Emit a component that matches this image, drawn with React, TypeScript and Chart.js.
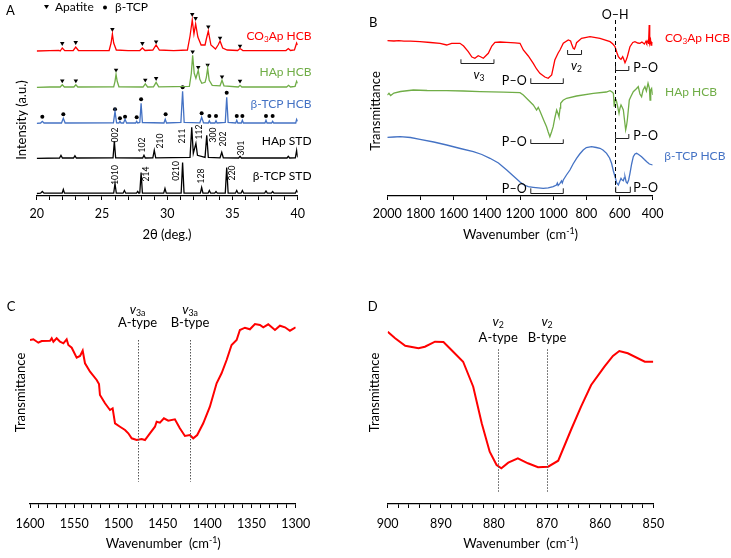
import React, { useEffect, useRef } from 'react';
import { Chart, registerables } from 'chart.js';
Chart.register(...registerables);

const FONT = 'Lato, "Open Sans", sans-serif';
const RED = '#ff0000';
const GREEN = '#70ad47';
const BLUE = '#4472c4';
const BLACK = '#000000';

type Pt = [number, number];

// ---------------- Panel A: XRD ----------------
const xrdTickLabels = [20, 25, 30, 35, 40];
const xrdNames = ['CO_{3}Ap HCB', 'HAp HCB', 'β-TCP HCB', 'HAp STD', 'β-TCP STD'];
const xrdOffsets = [145, 108.7, 72.7, 37.7, 2.5];

const co3apHcbXrd: Pt[] = [[20,0],[21,0.4],[21.7,0.5],[21.8,0],[21.96,3],[22.15,0.3],[22.8,0.5],[22.99,4],[23.2,0.5],[24.5,0.3],[25.55,0.5],[25.7,8],[25.8,17],[25.9,8],[26.1,1],[27,0.4],[27.9,0.5],[28.1,3],[28.3,0.5],[28.9,1],[29.15,6],[29.4,1],[30.5,0.4],[31.55,1],[31.75,15],[31.92,31],[32.05,17],[32.18,27],[32.35,14],[32.6,6],[32.9,6],[33.0,12],[33.15,20],[33.35,6],[33.7,2],[33.9,6],[34.05,10],[34.25,3],[34.6,1],[35.4,0.5],[35.58,2.5],[35.8,0.5],[37,0.4],[39.1,0.5],[39.28,2.5],[39.45,0.5],[39.75,1],[39.92,8],[40,6]];
const hapHcbXrd: Pt[] = [[20,0],[21,0.3],[21.8,0.3],[21.96,2.5],[22.12,0.3],[22.85,0.3],[23.0,2.5],[23.15,0.3],[25.9,0.5],[26.0,6],[26.08,13],[26.17,6],[26.3,0.5],[28.15,0.3],[28.32,3.5],[28.5,0.3],[28.95,0.5],[29.15,5],[29.35,0.5],[31.7,1],[31.85,14],[31.95,32],[32.07,14],[32.2,9],[32.38,17],[32.5,8],[32.65,4],[32.9,5],[33.0,10],[33.1,19],[33.22,7],[33.45,2],[34.05,1.5],[34.2,7],[34.35,1.5],[35.45,0.3],[35.58,2],[35.72,0.3],[39.15,0.3],[39.3,2],[39.45,0.3],[39.8,1],[39.92,6],[40,4]];
const tcpHcbXrd: Pt[] = [[20,0],[20.3,0.3],[20.43,2],[20.56,0.3],[21.9,0.3],[22.04,5],[22.18,0.3],[25.88,0.5],[26.0,12],[26.12,0.5],[26.3,0.3],[26.38,2],[26.46,0.3],[26.65,0.3],[26.77,4],[26.89,0.3],[27.58,0.3],[27.66,2],[27.74,0.3],[27.9,0.8],[28.0,20],[28.1,0.8],[29.75,0.3],[29.85,4],[29.95,0.3],[31.05,1],[31.18,32],[31.3,1],[32.5,0.5],[32.64,6],[32.78,0.5],[33.15,0.3],[33.23,2.5],[33.31,0.3],[33.66,0.3],[33.74,2.5],[33.82,0.3],[34.45,1],[34.56,26],[34.67,1],[35.25,0.3],[35.33,3],[35.41,0.3],[35.68,0.3],[35.76,3],[35.84,0.3],[37.49,0.3],[37.57,3],[37.65,0.3],[38.0,0.3],[38.08,2],[38.16,0.3],[39.85,0.3],[39.92,4],[40,2]];
const hapStdXrd: Pt[] = [[20,0],[21.75,0.3],[21.86,3],[21.97,0.3],[22.82,0.3],[22.93,2.5],[23.04,0.3],[25.85,0.5],[25.95,17],[26.05,0.5],[28.12,0.3],[28.22,3],[28.32,0.3],[28.9,0.5],[29.01,8],[29.12,0.5],[31.75,1],[31.88,31],[32.0,5],[32.2,15],[32.32,3],[32.9,1],[33.03,23],[33.15,1],[34.05,0.5],[34.18,6],[34.3,0.5],[35.48,0.3],[35.58,2],[35.68,0.3],[39.18,0.3],[39.28,2],[39.38,0.3],[39.82,0.5],[39.92,8],[40,1]];
const tcpStdXrd: Pt[] = [[20,0],[20.3,0.3],[20.43,2],[20.56,0.3],[21.95,0.3],[22.04,4],[22.13,0.3],[25.9,0.5],[26.0,10],[26.1,0.5],[26.62,0.3],[26.72,3],[26.82,0.3],[27.65,0.3],[27.74,2],[27.83,0.3],[27.9,0.5],[28.0,21],[28.1,0.5],[29.73,0.3],[29.83,5],[29.93,0.3],[31.07,0.5],[31.18,31],[31.29,0.5],[32.54,0.3],[32.64,6],[32.74,0.3],[33.13,0.3],[33.23,3],[33.33,0.3],[33.64,0.3],[33.74,2],[33.84,0.3],[34.45,0.5],[34.56,26],[34.67,0.5],[35.23,0.3],[35.33,3],[35.43,0.3],[35.66,0.3],[35.76,3],[35.86,0.3],[37.47,0.3],[37.57,2.5],[37.67,0.3],[37.98,0.3],[38.08,2],[38.18,0.3],[39.82,0.3],[39.92,3],[40,1]];

const apatiteMarks: Pt[] = [[21.96,152.7],[22.99,153.7],[25.8,166.7],[28.1,152.7],[29.15,154.3],[31.92,181.7],[32.18,177.7],[33.15,169.3],[34.05,158],[35.58,150],
  [21.96,115.3],[23.0,115.3],[26.08,126],[28.32,116],[29.15,117.7],[31.95,144.3],[32.38,128.7],[33.1,131],[34.2,119.3],[35.58,115]];
const tcpMarks: Pt[] = [[20.43,79.3],[22.04,81.7],[26.0,86.7],[26.38,77.7],[26.77,79.3],[27.66,78.7],[28.0,96.7],[29.88,81.7],[31.18,108.7],[32.64,82.7],[33.23,80],[33.74,80],[34.56,103.3],[35.33,80],[35.76,80],[37.57,80],[38.08,80]];

const hklLabels: [string, number, number][] = [['002',26.0,61],['102',28.09,51],['210',29.45,55],['211',31.17,60],['112',32.46,64],['300',33.53,61],['202',34.3,57],['301',35.66,48],
  ['1010',26.0,21],['214',28.43,22],['0210',30.73,25],['128',32.63,20],['220',35.0,23]];
const xrdNamePos: Pt[] = [[41.06,160.3],[41.06,124.3],[41.06,91.7],[41.06,55.3],[41.06,20.3]];

// ---------------- Panel B: FTIR ----------------
const ftirTickLabels = [2000, 1800, 1600, 1400, 1200, 1000, 800, 600, 400];
const ftirNames = ['CO_{3}Ap HCB', 'HAp HCB', 'β-TCP HCB'];
const co3apFtir: Pt[] = [[2000,155.3],[1960,155],[1930,155.4],[1900,154.8],[1860,154.9],[1803,154.3],[1740,153.5],[1682,152.7],[1642,151],[1612,152.7],[1562,152.7],[1540,150],[1512,144.3],[1490,139],[1472,137.7],[1452,140.3],[1435,139],[1421,137.7],[1391,142.7],[1370,150],[1351,153.7],[1320,154],[1280,153.7],[1230,153.2],[1200,152.7],[1180,146],[1150,140],[1120,132.7],[1100,127],[1080,122.7],[1050,119],[1030,117.7],[1009,121],[990,136],[970,143],[959,146],[939,152.7],[909,156],[895,155],[889,152],[879,147.7],[872,147],[865,150],[859,153.3],[829,157.7],[778,159.3],[718,157.7],[657,154.3],[640,152],[627,149.3],[615,143],[607,139.3],[598,137.5],[591,136.7],[581,139.3],[575,137],[567,133.3],[560,136],[553,139.3],[537,149.3],[520,153.5],[507,154.3],[490,153],[477,152.7],[465,154],[450,152],[440,155],[436,153],[428,155.5],[425,152],[421,171],[418,153],[413,156],[410,151],[405,153.5],[400,152.7]];
const hapFtir: Pt[] = [[2000,101],[1990,102.7],[1980,100.5],[1960,103],[1920,104.5],[1843,106],[1760,105.5],[1642,105.3],[1540,105],[1441,104.3],[1300,103.8],[1200,103.3],[1180,101],[1150,96],[1120,91],[1100,86],[1090,88.7],[1080,85],[1070,81],[1055,75],[1040,69.3],[1030,64],[1020,59.3],[1010,64],[1000,69.3],[990,78],[979,86],[970,82],[965,79.3],[958,88],[955,92.7],[940,95.7],[919,97.7],[859,100],[758,102.7],[680,104],[657,105.3],[645,104],[637,102.7],[632,89.3],[627,96],[620,96],[612,90],[603,82.7],[597,88],[591,91],[584,88.7],[577,86],[570,76],[563,66],[558,70],[553,76],[547,86],[541,96],[530,100],[517,104.3],[500,107],[487,109.3],[477,102],[467,99.3],[458,106],[447,109.3],[438,105],[428,112.7],[420,108],[416,96],[412,106],[406,107.7],[400,101]];
const tcpFtir: Pt[] = [[2000,58.7],[1960,59],[1923,59.3],[1860,58.5],[1803,56.7],[1720,54],[1642,51],[1560,47.5],[1481,44.3],[1430,41.5],[1381,37.7],[1330,33],[1280,26],[1240,20],[1200,14],[1175,11],[1150,9.3],[1120,8.7],[1090,8.2],[1060,7.7],[1030,8.2],[1000,9.3],[980,11],[975,13],[970,10.5],[959,12.7],[950,15],[945,13],[939,16],[920,21],[899,26],[880,32],[859,37.7],[840,42],[819,46],[800,48.5],[769,49.3],[740,48.5],[718,47.7],[700,46],[678,42.7],[660,38],[648,32.7],[637,25],[627,19.3],[617,13],[607,11],[600,14],[591,17.7],[584,16],[577,15.3],[572,18],[567,19.3],[560,14],[553,12.7],[545,16],[537,22.7],[527,32],[517,39.3],[507,42],[497,42.7],[485,41.5],[467,39.3],[450,36.5],[436,34.3],[420,32],[410,31.5],[400,31]];
const ftirNamePos: Pt[] = [[326,157.7],[326,104.3],[330,40.3]];
const ftirBrackets: [number, number, number, number][] = [[1556,1357,132.7,136.7],[1135,939,113.3,117.7],[913,829,141.7,146],[624,544,126,130],[1135,939,52.7,56.7],[624,544,58.3,62],[1135,939,3.3,7.7],[623,535,4.3,9.3]];
const ftirBandLabels: [string, number, number, CanvasTextAlign][] = [['*v*_{3}',1448,121,'center'],['P–O',1160,115,'right'],['*v*_{2}',859,130,'center'],['P–O',518,128.3,'left'],['P–O',1160,54.3,'right'],['P–O',518,60.5,'left'],['P–O',1160,7.5,'right'],['P–O',518,7.7,'left'],['O–H',627,181,'center']];
const ohLine = { w: 627, from: 0, to: 176 };

// ---------------- Panel C: v3 region ----------------
const v3TickLabels = [1600, 1550, 1500, 1450, 1400, 1350, 1300];
const v3Spectrum: Pt[] = [[1600,164],[1596.2,164.7],[1590.6,161.3],[1586.8,163],[1577.4,163.3],[1575.5,165.7],[1573.6,162.3],[1569.9,165.7],[1566.1,162.3],[1562.3,160.7],[1558.6,164.7],[1556.7,159],[1552.9,156.3],[1547.3,146.3],[1543.5,148],[1540.5,153.3],[1537.9,140.7],[1532.2,132.3],[1524.7,124],[1522.1,120],[1521,109],[1515.3,100.7],[1509.7,94],[1506.7,95.7],[1504,80.7],[1498.4,77.3],[1492.7,74],[1489,70.7],[1485.2,65.7],[1479.6,64],[1473.9,65],[1470.2,64],[1464.6,70.7],[1458.9,77.3],[1457,82.3],[1453.3,81.3],[1448.8,85.7],[1443.9,83.3],[1436.4,84.7],[1430.8,75.7],[1425.1,68],[1419.5,69],[1415.7,65.7],[1411.2,69],[1404.4,80.7],[1396.9,97.3],[1389.3,120.7],[1383.7,130.7],[1378,144],[1372.4,159],[1366.7,164],[1363,174],[1357.3,176.3],[1351.7,174.7],[1346,180],[1340.4,179],[1336.6,176.7],[1331,179.7],[1323.4,174],[1317.8,178.3],[1312.1,176.7],[1306.5,173.3],[1300,176.7]];
const v3Lines = [1478.6, 1419.3];
const v3LineSpan = { from: 22.3, to: 164 };
const v3Labels: [string, string][] = [['*v*_{3a}', 'A-type'], ['*v*_{3a}', 'B-type']];

// ---------------- Panel D: v2 region ----------------
const v2TickLabels = [900, 890, 880, 870, 860, 850];
const v2Spectrum: Pt[] = [[900,172.3],[898.6,165.7],[896.7,158.3],[894.2,155.7],[893,157.3],[891.1,162.3],[889.5,162],[888,154],[885.8,142.3],[883.9,117.3],[882.3,80.7],[880.8,52.3],[879.5,39],[878.6,35.7],[877.3,41.3],[875.5,45.7],[873.6,40.7],[871.7,36.7],[869.8,37.3],[867.9,43.3],[865.5,74],[863.6,97.3],[861.7,119],[859.2,137.3],[857.6,148],[856.4,153],[854.8,150.7],[851.6,142.3],[850,142.3]];
const v2Lines = [879.2, 870];
const v2LineSpan = { from: 12.3, to: 154.7 };
const v2Labels: [string, string][] = [['*v*_{2}', 'A-type'], ['*v*_{2}', 'B-type']];

// ---------------- helpers ----------------
type Seg = { t: string; kind: 'n' | 'sub' | 'sup'; it: boolean };
function parseRich(s: string): Seg[] {
  const segs: Seg[] = [];
  let i = 0, it = false, buf = '';
  const push = (t: string, kind: Seg['kind']) => { if (t) segs.push({ t, kind, it }); };
  while (i < s.length) {
    const c = s[i];
    if ((c === '_' || c === '^') && s[i + 1] === '{') {
      push(buf, 'n'); buf = '';
      const j = s.indexOf('}', i);
      push(s.slice(i + 2, j), c === '_' ? 'sub' : 'sup');
      i = j + 1; continue;
    }
    if (c === '*') { push(buf, 'n'); buf = ''; it = !it; i++; continue; }
    buf += c; i++;
  }
  push(buf, 'n');
  return segs;
}
function rich(ctx: CanvasRenderingContext2D, s: string, x: number, y: number, size: number, color: string, align: CanvasTextAlign = 'left', rotate = false) {
  const segs = parseRich(s);
  const fontOf = (g: Seg) => `${g.it ? 'italic ' : ''}${g.kind === 'n' ? size : size * 0.68}px ${FONT}`;
  let total = 0;
  for (const g of segs) { ctx.font = fontOf(g); total += ctx.measureText(g.t).width; }
  ctx.save();
  ctx.translate(x, y);
  if (rotate) ctx.rotate(-Math.PI / 2);
  let cx = align === 'center' ? -total / 2 : align === 'right' ? -total : 0;
  ctx.fillStyle = color;
  ctx.textAlign = 'left';
  ctx.textBaseline = 'middle';
  for (const g of segs) {
    ctx.font = fontOf(g);
    const dy = g.kind === 'sub' ? size * 0.28 : g.kind === 'sup' ? -size * 0.3 : 0;
    ctx.fillText(g.t, cx, dy);
    cx += ctx.measureText(g.t).width;
  }
  ctx.restore();
}
const toXY = (pts: Pt[], off = 0) => pts.map(([x, y]) => ({ x, y: y + off }));

function xAxis(min: number, max: number, step: number, labels: number[], reverse: boolean, axisH: number, pad: number) {
  return {
    type: 'linear' as const, min, max, reverse,
    afterFit: (s: any) => { s.height = axisH; },
    grid: { display: true, drawOnChartArea: false, drawTicks: true, tickLength: 4, color: BLACK, lineWidth: 1 },
    border: { display: true, color: BLACK, width: 1.3 },
    ticks: {
      stepSize: step, autoSkip: false, maxRotation: 0, minRotation: 0, maxTicksLimit: 1000, padding: pad, color: BLACK,
      font: { family: FONT, size: 12.5 },
      callback: (v: any) => (labels.some((l) => Math.abs(l - Number(v)) < 1e-6) ? String(v) : ''),
    },
  };
}
function line(data: any[], color: string, width: number) {
  return { type: 'line' as const, data, borderColor: color, borderWidth: width, pointRadius: 0, tension: 0, fill: false };
}
function baseOptions(padding: any, x: any, yMax: number, plugin: any) {
  return {
    options: {
      responsive: false, animation: false as const, devicePixelRatio: 1, events: [] as any[],
      layout: { padding },
      plugins: { legend: { display: false }, tooltip: { enabled: false }, title: { display: false } },
      scales: { x, y: { type: 'linear' as const, display: false, min: 0, max: yMax } },
    },
    plugins: [plugin],
  };
}

// ---------------- chart configs ----------------
function makeA() {
  const colors = [RED, GREEN, BLUE, BLACK, BLACK];
  const traces = [co3apHcbXrd, hapHcbXrd, tcpHcbXrd, hapStdXrd, tcpStdXrd];
  const plugin = {
    id: 'annA',
    afterDraw(chart: any) {
      const ctx = chart.ctx as CanvasRenderingContext2D;
      const xs = chart.scales.x, ys = chart.scales.y;
      rich(ctx, 'A', 10.5, 11, 13, BLACK, 'center');
      ctx.fillStyle = BLACK;
      ctx.beginPath(); ctx.moveTo(44, 5); ctx.lineTo(49, 5); ctx.lineTo(46.5, 9); ctx.closePath(); ctx.fill();
      rich(ctx, 'Apatite', 55, 7.5, 12, BLACK, 'left');
      ctx.beginPath(); ctx.arc(105, 7.5, 2, 0, Math.PI * 2); ctx.fill();
      rich(ctx, 'β-TCP', 115, 7.5, 12, BLACK, 'left');
      rich(ctx, 'Intensity (a.u.)', 21.7, 120, 13, BLACK, 'center', true);
      rich(ctx, '2θ (deg.)', 167, 235, 13, BLACK, 'center');
      xrdNames.forEach((n, i) => {
        rich(ctx, n, xs.getPixelForValue(xrdNamePos[i][0]), ys.getPixelForValue(xrdNamePos[i][1]), 12, colors[i], 'right');
      });
      hklLabels.forEach(([t, th, v]) => rich(ctx, t, xs.getPixelForValue(th), ys.getPixelForValue(v), 8.5, BLACK, 'center', true));
    },
  };
  return {
    type: 'line' as const,
    data: {
      datasets: [
        ...traces.map((t, i) => line(toXY(t, xrdOffsets[i]), colors[i], 1.3)),
        { type: 'line' as const, data: toXY(apatiteMarks), showLine: false, pointStyle: 'triangle', rotation: 180, pointRadius: 2.6, backgroundColor: BLACK, borderColor: BLACK, borderWidth: 0 },
        { type: 'line' as const, data: toXY(tcpMarks), showLine: false, pointStyle: 'circle', pointRadius: 2, backgroundColor: BLACK, borderColor: BLACK, borderWidth: 0 },
      ],
    },
    ...baseOptions({ left: 36.7, right: 67.3, top: 10, bottom: 0 }, xAxis(20, 40, 1, xrdTickLabels, false, 84, 6), 186, plugin),
  };
}

function makeB() {
  const colors = [RED, GREEN, BLUE];
  const plugin = {
    id: 'annB',
    afterDraw(chart: any) {
      const ctx = chart.ctx as CanvasRenderingContext2D;
      const xs = chart.scales.x, ys = chart.scales.y;
      rich(ctx, 'B', 8.3, 23, 13, BLACK, 'center');
      rich(ctx, 'Transmittance', 10.7, 111, 13, BLACK, 'center', true);
      rich(ctx, 'Wavenumber  (cm^{-1})', 155.5, 235, 13, BLACK, 'center');
      ftirNames.forEach((n, i) => rich(ctx, n, xs.getPixelForValue(ftirNamePos[i][0]), ys.getPixelForValue(ftirNamePos[i][1]), 12, colors[i], 'left'));
      ctx.save();
      ctx.strokeStyle = BLACK; ctx.lineWidth = 1; ctx.setLineDash([4, 3]);
      const ox = Math.round(xs.getPixelForValue(ohLine.w)) + 0.5;
      ctx.beginPath(); ctx.moveTo(ox, ys.getPixelForValue(ohLine.to)); ctx.lineTo(ox, ys.getPixelForValue(ohLine.from)); ctx.stroke();
      ctx.restore();
      ctx.save();
      ctx.strokeStyle = '#222'; ctx.lineWidth = 1;
      ftirBrackets.forEach(([a, b, vb, vt]) => {
        const x1 = xs.getPixelForValue(a), x2 = xs.getPixelForValue(b);
        const yb = Math.round(ys.getPixelForValue(vb)) + 0.5, yt = ys.getPixelForValue(vt);
        ctx.beginPath(); ctx.moveTo(x1, yt); ctx.lineTo(x1, yb); ctx.lineTo(x2, yb); ctx.lineTo(x2, yt); ctx.stroke();
      });
      ctx.restore();
      ftirBandLabels.forEach(([t, w, v, al]) => rich(ctx, t, xs.getPixelForValue(w), ys.getPixelForValue(v), 12.5, BLACK, al));
    },
  };
  return {
    type: 'line' as const,
    data: { datasets: [line(toXY(co3apFtir), RED, 1.3), line(toXY(hapFtir), GREEN, 1.3), line(toXY(tcpFtir), BLUE, 1.3)] },
    ...baseOptions({ left: 22.3, right: 78.3, top: 10, bottom: 0 }, xAxis(400, 2000, 200, ftirTickLabels, true, 84, 6), 186, plugin),
  };
}

function makeZoomPanel(letter: string, spectrum: Pt[], min: number, max: number, step: number, tickLabels: number[], vLines: number[], span: { from: number; to: number }, labels: [string, string][], labelV: [number, number], pad: any, letterX: number, yTitleX: number, xTitleX: number) {
  const plugin = {
    id: 'ann' + letter,
    afterDraw(chart: any) {
      const ctx = chart.ctx as CanvasRenderingContext2D;
      const xs = chart.scales.x, ys = chart.scales.y;
      rich(ctx, letter, letterX, 26.7, 13, BLACK, 'center');
      rich(ctx, 'Transmittance', yTitleX, 112.5, 13, BLACK, 'center', true);
      rich(ctx, 'Wavenumber  (cm^{-1})', xTitleX, 264, 13, BLACK, 'center');
      ctx.save();
      ctx.strokeStyle = '#555'; ctx.lineWidth = 1; ctx.setLineDash([1.5, 1.5]);
      vLines.forEach((w) => {
        const x = Math.round(xs.getPixelForValue(w)) + 0.5;
        ctx.beginPath(); ctx.moveTo(x, ys.getPixelForValue(span.to)); ctx.lineTo(x, ys.getPixelForValue(span.from)); ctx.stroke();
      });
      ctx.restore();
      labels.forEach(([a, b], i) => {
        const x = xs.getPixelForValue(vLines[i]);
        rich(ctx, a, x, ys.getPixelForValue(labelV[0]), 13, BLACK, 'center');
        rich(ctx, b, x, ys.getPixelForValue(labelV[1]), 13, BLACK, 'center');
      });
    },
  };
  return {
    type: 'line' as const,
    data: { datasets: [line(toXY(spectrum), RED, 2)] },
    ...baseOptions(pad, xAxis(min, max, step, tickLabels, true, 54, 8), 204, plugin),
  };
}

function Panel({ left, top, width, height, make }: { left: number; top: number; width: number; height: number; make: () => any }) {
  const ref = useRef<HTMLCanvasElement>(null);
  useEffect(() => {
    const chart = new Chart(ref.current as HTMLCanvasElement, make());
    return () => chart.destroy();
  }, []);
  return (
    <div style={{ position: 'absolute', left, top, width, height }}>
      <canvas ref={ref} width={width} height={height} style={{ width, height, display: 'block' }} />
    </div>
  );
}

export default function App() {
  return (
    <div style={{ position: 'fixed', left: 0, top: 0, width: 731, height: 558, background: '#fff', overflow: 'hidden' }}>
      <Panel left={0} top={0} width={365} height={280} make={makeA} />
      <Panel left={365} top={0} width={366} height={280} make={makeB} />
      <Panel left={0} top={280} width={365} height={278}
        make={() => makeZoomPanel('C', v3Spectrum, 1300, 1600, 10, v3TickLabels, v3Lines, v3LineSpan, v3Labels, [194, 181.3], { left: 30, right: 69.3, top: 20, bottom: 0 }, 11, 21, 163.3)} />
      <Panel left={365} top={280} width={366} height={278}
        make={() => makeZoomPanel('D', v2Spectrum, 850, 900, 2, v2TickLabels, v2Lines, v2LineSpan, v2Labels, [182.3, 165.7], { left: 22.7, right: 77.7, top: 20, bottom: 0 }, 7.8, 10, 155.7)} />
    </div>
  );
}
